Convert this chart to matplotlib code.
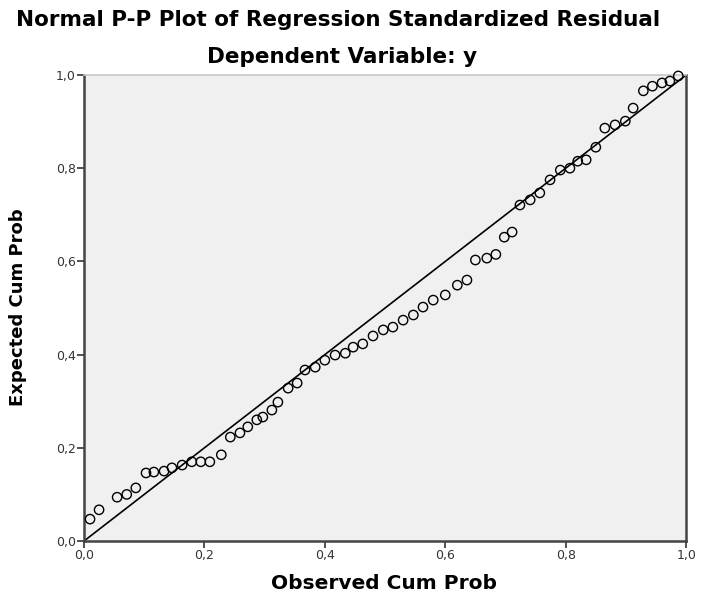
import numpy as np
import matplotlib
matplotlib.use("Agg")
import matplotlib.pyplot as plt
from matplotlib.ticker import FuncFormatter

plt.rcParams['font.family'] = ['DejaVu Sans']

# observed vs expected cumulative probabilities
observed = [0.010, 0.025, 0.055, 0.071, 0.086, 0.103, 0.116, 0.133, 0.146, 0.163,
            0.179, 0.194, 0.209, 0.228, 0.243, 0.259, 0.272, 0.287, 0.297, 0.312,
            0.322, 0.339, 0.354, 0.367, 0.384, 0.400, 0.417, 0.434, 0.447, 0.463,
            0.480, 0.497, 0.513, 0.530, 0.547, 0.563, 0.580, 0.600, 0.620, 0.636,
            0.650, 0.669, 0.684, 0.698, 0.711, 0.724, 0.741, 0.757, 0.774, 0.791,
            0.807, 0.820, 0.834, 0.850, 0.865, 0.882, 0.899, 0.912, 0.929, 0.944,
            0.960, 0.973, 0.987]
expected = [0.047, 0.067, 0.094, 0.100, 0.114, 0.146, 0.148, 0.150, 0.157, 0.163,
            0.170, 0.170, 0.170, 0.185, 0.223, 0.232, 0.245, 0.260, 0.266, 0.281,
            0.298, 0.328, 0.339, 0.367, 0.373, 0.388, 0.399, 0.403, 0.416, 0.423,
            0.440, 0.453, 0.459, 0.474, 0.485, 0.502, 0.517, 0.528, 0.549, 0.560,
            0.603, 0.607, 0.615, 0.652, 0.663, 0.721, 0.732, 0.747, 0.775, 0.796,
            0.800, 0.815, 0.818, 0.845, 0.886, 0.893, 0.901, 0.929, 0.966, 0.976,
            0.983, 0.987, 0.998]
ticks = [0.0, 0.2, 0.4, 0.6, 0.8, 1.0]

fig = plt.figure(figsize=(7.03, 6.02), dpi=100)
ax = fig.add_axes([0.1195, 0.1013, 0.8565, 0.7741])
ax.set_facecolor("#f0f0f0")

# reference line
ax.plot([0, 1], [0, 1], color="black", lw=1.2, zorder=2)
ax.scatter(observed, expected, s=45, facecolors="none", edgecolors="black",
           linewidths=1.0, zorder=3, clip_on=False)

ax.set_xlim(0, 1)
ax.set_ylim(0, 1)
ax.set_xticks(ticks)
ax.set_yticks(ticks)
fmt = FuncFormatter(lambda v, p: f"{v:.1f}".replace(".", ","))
ax.xaxis.set_major_formatter(fmt)
ax.yaxis.set_major_formatter(fmt)
ax.tick_params(direction="out", length=5, width=1.2, colors="#333333",
               labelsize=9, labelcolor="#333333", pad=1)

for side in ["left", "bottom", "right"]:
    ax.spines[side].set_color("#444444")
    ax.spines[side].set_linewidth(1.8)
ax.spines["top"].set_color("#c8c8c8")
ax.spines["top"].set_linewidth(1.2)

fig.text(0.546, 0.031, "Observed Cum Prob", ha="center", va="center",
         fontsize=14.5, fontweight="bold")
fig.text(0.025, 0.489, "Expected Cum Prob", ha="center", va="center",
         rotation=90, fontsize=13, fontweight="bold")

fig.text(0.481, 0.967, "Normal P-P Plot of Regression Standardized Residual",
         ha="center", va="center", fontsize=15.5, fontweight="bold")
fig.text(0.487, 0.905, "Dependent Variable: y", ha="center", va="center",
         fontsize=15.5, fontweight="bold")

fig.savefig("out.png", dpi=100)
